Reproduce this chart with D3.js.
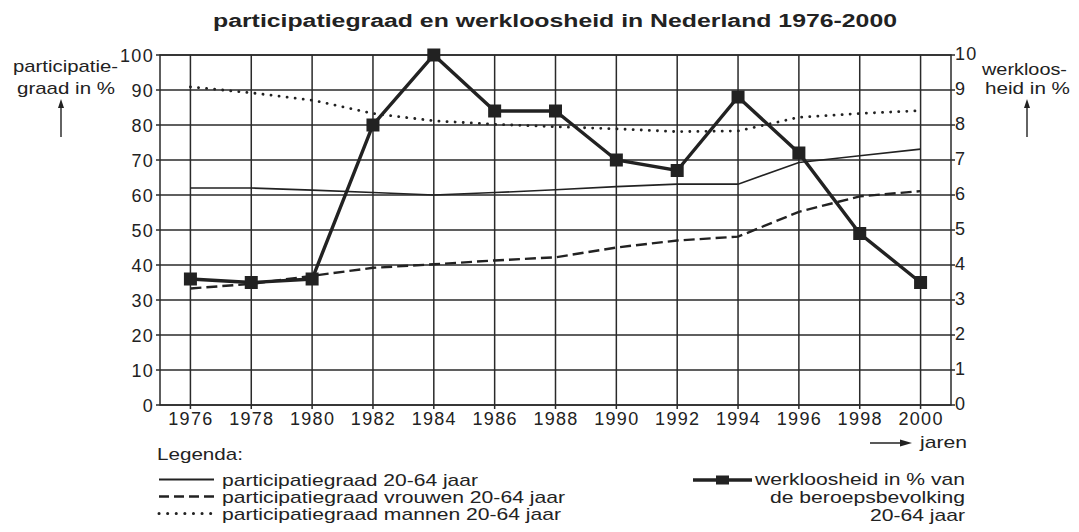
<!DOCTYPE html>
<html>
<head>
<meta charset="utf-8">
<script src="https://cdn.jsdelivr.net/npm/d3@7"></script>
<style>
  body { margin: 0; background: #fff; }
  svg text { font-family: "Liberation Sans", Arial, sans-serif; fill: #222; }
</style>
</head>
<body>
<svg id="chart" width="1079" height="532"></svg>
<script>
// data
var years = [1976, 1978, 1980, 1982, 1984, 1986, 1988, 1990, 1992, 1994, 1996, 1998, 2000];
var partTotaal = [62, 62, 61.4, 60.7, 60, 60.7, 61.5, 62.4, 63.1, 63.1, 69.3, 71.2, 73.1];
var partVrouwen = [33.3, 34.6, 36.9, 39.2, 40.2, 41.3, 42.2, 45, 47, 48.1, 55.2, 59.6, 61.1];
var partMannen = [90.9, 89.2, 87.1, 83.3, 81.2, 80.2, 79.5, 78.9, 78.1, 78.3, 82.2, 83.3, 84.1];
var werkloosheid = [3.6, 3.5, 3.6, 8.0, 10.0, 8.4, 8.4, 7.0, 6.7, 8.8, 7.2, 4.9, 3.5];
var leftTicks = [0, 10, 20, 30, 40, 50, 60, 70, 80, 90, 100];
var rightTicks = [0, 1, 2, 3, 4, 5, 6, 7, 8, 9, 10];

var svg = d3.select("#chart");
var ink = "#222";

var x = d3.scaleLinear().domain([1975, 2001]).range([160, 951]);
var y = d3.scaleLinear().domain([0, 100]).range([405, 55]);
var y2 = d3.scaleLinear().domain([0, 10]).range([405, 55]);

// text helper: the reference font is drawn wider than Arial, so stretch to measured width
function label(tx, ty, str, size, len, anchor, weight) {
  var t = svg.append("text")
    .attr("x", tx).attr("y", ty)
    .attr("font-size", size)
    .attr("text-anchor", anchor || "start")
    .text(str);
  if (weight) t.attr("font-weight", weight);
  if (len) t.attr("textLength", len).attr("lengthAdjust", "spacingAndGlyphs");
  return t;
}

label(213, 27, "participatiegraad en werkloosheid in Nederland 1976-2000", 18, 684, "start", "bold");

// grid
var grid = svg.append("g").attr("stroke", "#2a2a2a").attr("stroke-width", 1.5);
grid.selectAll("line.h").data(leftTicks).enter().append("line")
  .attr("x1", x(1975) - 4).attr("x2", x(2001) + 4)
  .attr("y1", function(d){ return y(d); }).attr("y2", function(d){ return y(d); });
grid.selectAll("line.v").data(years).enter().append("line")
  .attr("x1", function(d){ return x(d); }).attr("x2", function(d){ return x(d); })
  .attr("y1", y(100)).attr("y2", y(0) + 4);
grid.append("rect")
  .attr("x", x(1975)).attr("y", y(100))
  .attr("width", x(2001) - x(1975)).attr("height", y(0) - y(100))
  .attr("fill", "none");

// axes labels
function styleTicks(g) {
  g.select(".domain").remove();
  g.selectAll("text").attr("font-size", 18).attr("fill", ink)
    .attr("font-family", "Liberation Sans, Arial, sans-serif")
    .attr("letter-spacing", 1.3);
}
var leftAxis = d3.axisLeft(y).tickValues(leftTicks).tickSize(0).tickPadding(6);
svg.append("g").attr("transform", "translate(" + x(1975) + ",1)").call(leftAxis).call(styleTicks);

var rightAxis = d3.axisRight(y2).tickValues(rightTicks).tickSize(0).tickPadding(4);
svg.append("g").attr("transform", "translate(" + x(2001) + ",-1)").call(rightAxis).call(styleTicks);

var bottomAxis = d3.axisBottom(x).tickValues(years).tickFormat(d3.format("d")).tickSize(0).tickPadding(7);
svg.append("g").attr("transform", "translate(0," + y(0) + ")").call(bottomAxis).call(styleTicks);

// axis titles
function arrowUp(cx, y1, y2) {
  svg.append("line").attr("x1", cx).attr("x2", cx).attr("y1", y1).attr("y2", y2 + 6)
    .attr("stroke", ink).attr("stroke-width", 1.4);
  svg.append("path").attr("d", "M" + (cx - 3) + "," + (y2 + 9) + "L" + cx + "," + y2 + "L" + (cx + 3) + "," + (y2 + 9) + "Z")
    .attr("fill", ink);
}
label(13, 72, "participatie-", 17, 105);
label(17, 94, "graad in %", 17, 98);
arrowUp(61, 137, 99);
label(982, 75, "werkloos-", 17, 85);
label(985, 94, "heid in %", 17, 85);
arrowUp(1027, 137, 99);

// jaren
svg.append("line").attr("x1", 870).attr("x2", 905).attr("y1", 443).attr("y2", 443)
  .attr("stroke", ink).attr("stroke-width", 1.4);
svg.append("path").attr("d", "M900,439.5L912,443L900,446.5Z").attr("fill", ink);
label(920, 448, "jaren", 17, 47);

// series
var lineP = d3.line().x(function(d, i){ return x(years[i]); }).y(function(d){ return y(d); });
var lineW = d3.line().x(function(d, i){ return x(years[i]); }).y(function(d){ return y2(d); });

svg.append("path").datum(partTotaal).attr("d", lineP)
  .attr("fill", "none").attr("stroke", ink).attr("stroke-width", 1.6);
svg.append("path").datum(partVrouwen).attr("d", lineP)
  .attr("fill", "none").attr("stroke", ink).attr("stroke-width", 2.4).attr("stroke-dasharray", "11,5");
svg.append("path").datum(partMannen).attr("d", lineP)
  .attr("fill", "none").attr("stroke", ink).attr("stroke-width", 2.8)
  .attr("stroke-dasharray", "0.1,8").attr("stroke-linecap", "round");
svg.append("path").datum(werkloosheid).attr("d", lineW)
  .attr("fill", "none").attr("stroke", ink).attr("stroke-width", 3.4);
svg.selectAll("rect.mark").data(werkloosheid).enter().append("rect")
  .attr("class", "mark")
  .attr("x", function(d, i){ return x(years[i]) - 6.5; })
  .attr("y", function(d){ return y2(d) - 6.5; })
  .attr("width", 13).attr("height", 13).attr("fill", ink);

// legend
label(157, 460, "Legenda:", 17, 86);
var legendItems = [
  { label: "participatiegraad 20-64 jaar", dash: null, w: 1.8, cap: "butt", len: 256 },
  { label: "participatiegraad vrouwen 20-64 jaar", dash: "10,5", w: 2.4, cap: "butt", len: 343 },
  { label: "participatiegraad mannen 20-64 jaar", dash: "0.1,8.5", w: 3, cap: "round", len: 339 }
];
legendItems.forEach(function(d, i) {
  var ly = 479.5 + i * 17;
  svg.append("line").attr("x1", 159).attr("x2", 214).attr("y1", ly).attr("y2", ly)
    .attr("stroke", ink).attr("stroke-width", d.w)
    .attr("stroke-dasharray", d.dash).attr("stroke-linecap", d.cap);
  label(222, ly + 6.5, d.label, 17, d.len);
});
svg.append("line").attr("x1", 693).attr("x2", 752).attr("y1", 480).attr("y2", 480)
  .attr("stroke", ink).attr("stroke-width", 3.4);
svg.append("rect").attr("x", 716).attr("y", 475.5).attr("width", 13).attr("height", 9).attr("fill", ink);
label(965, 485, "werkloosheid in % van", 17, 210, "end");
label(965, 503, "de beroepsbevolking", 17, 195, "end");
label(965, 521, "20-64 jaar", 17, 95, "end");
</script>
</body>
</html>
